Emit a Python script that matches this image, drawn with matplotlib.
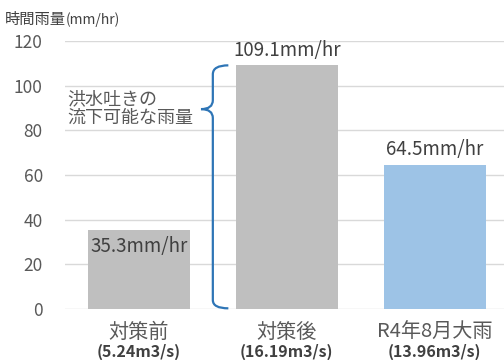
import matplotlib
matplotlib.use("Agg")
import matplotlib.pyplot as plt
from matplotlib.path import Path
from matplotlib.patches import PathPatch

plt.rcParams['font.family'] = ['Noto Sans CJK JP', 'DejaVu Sans']

categories = ["対策前", "対策後", "R4年8月大雨"]
flows = ["(5.24m3/s)", "(16.19m3/s)", "(13.96m3/s)"]
rainfall = [35.3, 109.1, 64.5]
value_labels = ["35.3mm/hr", "109.1mm/hr", "64.5mm/hr"]
bar_colors = ["#BFBFBF", "#BFBFBF", "#9DC3E6"]
yticks = [0, 20, 40, 60, 80, 100, 120]

fig = plt.figure(figsize=(5.04, 3.60), dpi=100)
ax = fig.add_axes([65 / 504, 1 - 309 / 360, 443.5 / 504, 268 / 360])

x = list(range(len(categories)))
ax.bar(x, rainfall, width=0.69, color=bar_colors, zorder=2)
ax.set_xlim(-0.5, 2.5)
ax.set_ylim(0, 120)
ax.set_yticks(yticks)
ax.set_yticklabels([str(t) for t in yticks], fontsize=12.5, color="#595959")
ax.tick_params(axis="y", length=0, pad=16)
ax.tick_params(axis="x", length=0)
ax.set_xticks([])
ax.grid(axis="y", color="#D9D9D9", linewidth=1.0, zorder=0)
for s in ax.spines.values():
    s.set_visible(False)

# value labels
ax.text(x[0], rainfall[0] - 2.5, value_labels[0], ha="center", va="top",
        fontsize=13.5, color="#404040", zorder=3)
for i in (1, 2):
    ax.text(x[i], rainfall[i] + 2.0, value_labels[i], ha="center", va="bottom",
            fontsize=13.5, color="#404040", zorder=3)

# category labels
for i in x:
    ax.text(x[i], -5.8, categories[i], ha="center", va="top",
            fontsize=14.5, color="#595959", clip_on=False)
    ax.text(x[i], -15.6, flows[i], ha="center", va="top",
            fontsize=11.5, color="#404040", fontweight="bold", clip_on=False)

# brace spanning the capacity of the spillway
top = rainfall[1]
tip_y = 89.5
xv, xe, xt = 0.5, 0.605, 0.42
r = 4.0
verts = [
    (xe, top), (xv, top), (xv, top - r),           # top hook
    (xv, tip_y + r),                              # down to tip
    (xv, tip_y), (xt, tip_y),                     # curve to tip
    (xv, tip_y), (xv, tip_y - r),                 # back from tip
    (xv, r),                                      # down to bottom
    (xv, 0.3), (xe, 0.3),                         # bottom hook
]
codes = [Path.MOVETO, Path.CURVE3, Path.CURVE3,
         Path.LINETO,
         Path.CURVE3, Path.CURVE3,
         Path.CURVE3, Path.CURVE3,
         Path.LINETO,
         Path.CURVE3, Path.CURVE3]
ax.add_patch(PathPatch(Path(verts, codes), facecolor="none",
                       edgecolor="#2E75B6", linewidth=1.6, zorder=3,
                       clip_on=False))

ax.text(-0.485, 89.8, "洪水吐きの\n流下可能な雨量", ha="left", va="center",
        fontsize=13, color="#595959", linespacing=1.1, zorder=3)

# axis title
t1 = fig.text(5 / 504, 1 - 19 / 360, "時間雨量", ha="left", va="center",
              fontsize=11, color="#404040")
ax.annotate("(mm/hr)", xy=(1, 0.45), xycoords=t1, xytext=(0, 0),
            textcoords="offset points", ha="left", va="center",
            fontsize=10, color="#404040", annotation_clip=False)

fig.savefig("out.png", dpi=100)
